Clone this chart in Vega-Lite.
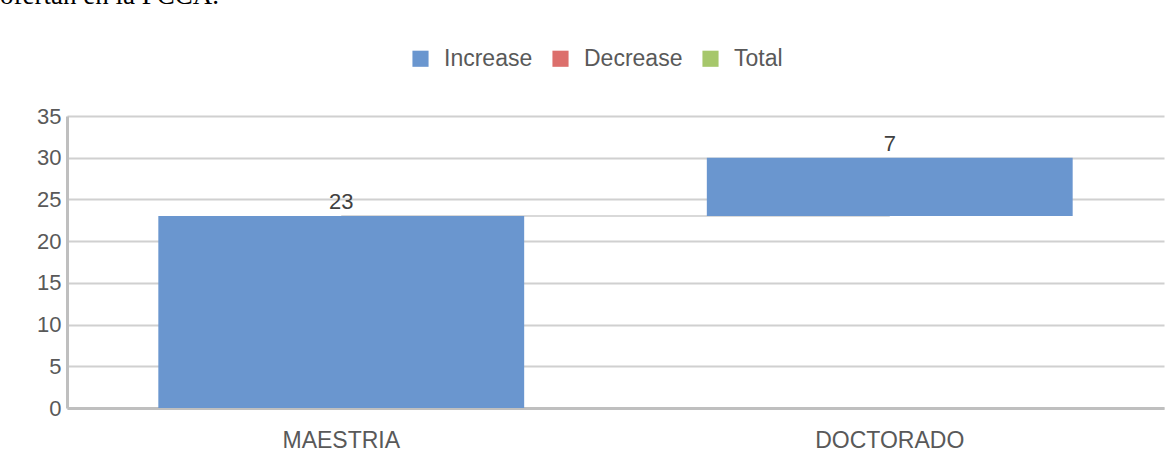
{
  "$schema": "https://vega.github.io/schema/vega-lite/v6.json",
  "width": 1097,
  "height": 292,
  "autosize": {"type": "none"},
  "padding": {"left": 67, "top": 116, "right": 5, "bottom": 54},
  "background": "white",
  "title": {
    "text": "ofertan en la FCCA.",
    "anchor": "start",
    "frame": "group",
    "font": "Liberation Serif",
    "fontSize": 27,
    "fontWeight": "normal",
    "color": "#000000",
    "baseline": "alphabetic",
    "dx": -67,
    "offset": 16
  },
  "config": {
    "view": {"stroke": null},
    "font": "Liberation Sans"
  },
  "datasets": {
    "steps": [
      {"categoria": "MAESTRIA", "inicio": 0, "fin": 23, "cambio": 23, "tipo": "Increase"},
      {"categoria": "DOCTORADO", "inicio": 23, "fin": 30, "cambio": 7, "tipo": "Increase"}
    ],
    "conectores": [
      {"desde": "MAESTRIA", "hasta": "DOCTORADO", "nivel": 23}
    ]
  },
  "layer": [
    {
      "data": {"name": "conectores"},
      "mark": {"type": "rule", "color": "#d9d9d9", "strokeWidth": 2},
      "encoding": {
        "x": {"field": "desde", "type": "nominal", "scale": {"domain": ["MAESTRIA", "DOCTORADO"]}},
        "x2": {"field": "hasta"},
        "y": {"field": "nivel", "type": "quantitative"}
      }
    },
    {
      "data": {"name": "steps"},
      "mark": {"type": "bar"},
      "encoding": {
        "x": {
          "field": "categoria",
          "type": "nominal",
          "scale": {"domain": ["MAESTRIA", "DOCTORADO"], "paddingInner": 0.333, "paddingOuter": 0.1665},
          "axis": {
            "title": null,
            "labelAngle": 0,
            "labelAlign": "center",
            "bandPosition": 0.5,
            "labelFontSize": 23,
            "labelColor": "#595959",
            "labelPadding": 32,
            "ticks": false,
            "domainColor": "#bfbfbf",
            "domainWidth": 3
          }
        },
        "y": {
          "field": "inicio",
          "type": "quantitative",
          "scale": {"domain": [0, 35]},
          "axis": {
            "title": null,
            "values": [0, 5, 10, 15, 20, 25, 30, 35],
            "labelFontSize": 22,
            "labelColor": "#595959",
            "labelPadding": 6,
            "ticks": false,
            "domainColor": "#bfbfbf",
            "domainWidth": 3,
            "gridColor": "#d0d0d0",
            "gridWidth": 2
          }
        },
        "y2": {"field": "fin"},
        "color": {
          "field": "tipo",
          "type": "nominal",
          "scale": {
            "domain": ["Increase", "Decrease", "Total"],
            "range": ["#6a96cf", "#dc6f6c", "#a6c76b"]
          },
          "legend": {
            "title": null,
            "orient": "none",
            "direction": "horizontal",
            "legendX": 342,
            "legendY": -69,
            "symbolType": "square",
            "symbolSize": 260,
            "symbolStrokeWidth": 0,
            "symbolOpacity": 1,
            "labelFontSize": 23,
            "labelColor": "#595959",
            "labelOffset": 12,
            "columnPadding": 16
          }
        }
      }
    },
    {
      "data": {"name": "steps"},
      "mark": {"type": "text", "baseline": "bottom", "dy": -2, "fontSize": 22, "color": "#404040"},
      "encoding": {
        "x": {"field": "categoria", "type": "nominal"},
        "y": {"field": "fin", "type": "quantitative"},
        "text": {"field": "cambio", "type": "quantitative"}
      }
    }
  ]
}
